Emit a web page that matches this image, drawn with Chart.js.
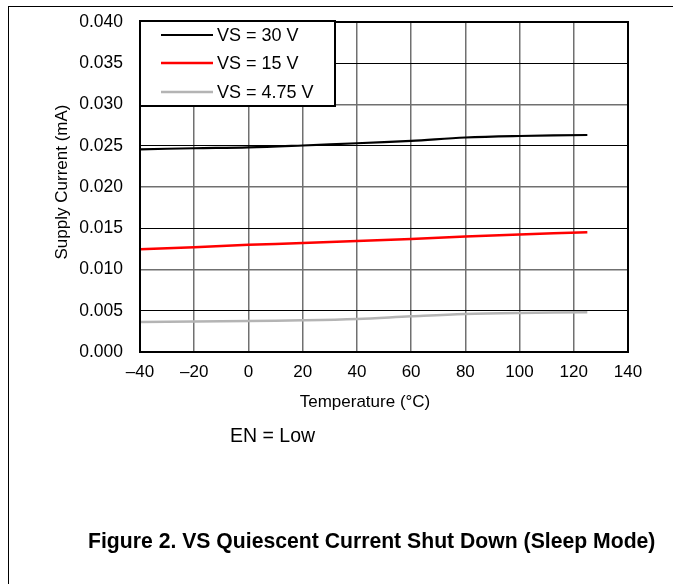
<!DOCTYPE html>
<html>
<head>
<meta charset="utf-8">
<script src="https://cdn.jsdelivr.net/npm/chart.js@4.4.1/dist/chart.umd.min.js"></script>
<style>
html,body{margin:0;padding:0;background:#fff;}
#wrap{position:relative;width:673px;height:584px;overflow:hidden;}
#frame{position:absolute;left:8px;top:6px;width:700px;height:700px;border-top:1px solid #000;border-left:1px solid #000;}
canvas{position:absolute;left:0;top:0;}
</style>
</head>
<body>
<div id="wrap">
<div id="frame"></div>
<canvas id="c" width="673" height="584"></canvas>
</div>
<script>
// Data
const temps = [-40, -20, 0, 20, 40, 60, 80, 100, 125];
const vs30  = [0.02457, 0.0247, 0.0248, 0.02503, 0.0253, 0.0256, 0.0260, 0.02618, 0.0263];
const vs15  = [0.01245, 0.0127, 0.0130, 0.0132, 0.01345, 0.0137, 0.0140, 0.01425, 0.01451];
const vs475 = [0.00364, 0.0037, 0.00376, 0.00384, 0.0040, 0.00432, 0.0046, 0.00473, 0.00481];
const seriesLabels = ['VS = 30 V', 'VS = 15 V', 'VS = 4.75 V'];
const xTickValues = [-40, -20, 0, 20, 40, 60, 80, 100, 120, 140];
const xTickLabels = ['\u201340', '\u201320', '0', '20', '40', '60', '80', '100', '120', '140'];
const yTickValues = [0, 0.005, 0.010, 0.015, 0.020, 0.025, 0.030, 0.035, 0.040];
const yTickLabels = ['0.000', '0.005', '0.010', '0.015', '0.020', '0.025', '0.030', '0.035', '0.040'];
const xTitle = 'Temperature (\u00B0C)';
const yTitle = 'Supply Current (mA)';
const noteText = 'EN = Low';
const captionText = 'Figure 2. VS Quiescent Current Shut Down (Sleep Mode)';

const FONT = '"Liberation Sans", Arial, sans-serif';
const toPts = arr => temps.map((t, i) => ({x: t, y: arr[i]}));

const overlay = {
  id: 'overlay',
  afterDatasetsDraw(chart) {
    const ctx = chart.ctx;
    const a = chart.chartArea;
    ctx.save();
    // plot border
    ctx.strokeStyle = '#000';
    ctx.lineWidth = 2;
    ctx.strokeRect(a.left, a.top, a.right - a.left, a.bottom - a.top);
    // legend box
    const lx = a.left, ly = a.top - 1, lw = 195, lh = 85;
    ctx.fillStyle = '#fff';
    ctx.fillRect(lx, ly, lw, lh);
    ctx.lineWidth = 2;
    ctx.strokeRect(lx, ly, lw, lh);
    const rows = [35, 63, 92];
    chart.data.datasets.forEach((ds, i) => {
      ctx.strokeStyle = ds.borderColor;
      ctx.lineWidth = ds.borderWidth;
      ctx.beginPath();
      ctx.moveTo(161, rows[i]);
      ctx.lineTo(213, rows[i]);
      ctx.stroke();
      ctx.fillStyle = '#000';
      ctx.font = '18px ' + FONT;
      ctx.textBaseline = 'middle';
      ctx.textAlign = 'left';
      ctx.fillText(ds.label, 217, rows[i] + 1);
    });
    ctx.restore();
  },
  afterDraw(chart) {
    const ctx = chart.ctx;
    ctx.save();
    ctx.fillStyle = '#000';
    ctx.textBaseline = 'middle';
    ctx.textAlign = 'center';
    ctx.font = '17px ' + FONT;
    ctx.fillText(xTitle, 365, 402);
    ctx.save();
    ctx.translate(62, 182);
    ctx.rotate(-Math.PI / 2);
    ctx.fillText(yTitle, 0, 0);
    ctx.restore();
    ctx.textAlign = 'left';
    ctx.font = '19.5px ' + FONT;
    ctx.fillText(noteText, 230, 437);
    ctx.font = 'bold 21.2px ' + FONT;
    ctx.fillText(captionText, 88, 542);
    ctx.restore();
  }
};

new Chart(document.getElementById('c'), {
  type: 'line',
  data: {
    datasets: [
      {label: seriesLabels[0], data: toPts(vs30), borderColor: '#000000', borderWidth: 2.2, pointRadius: 0, tension: 0.35, fill: false},
      {label: seriesLabels[1], data: toPts(vs15), borderColor: '#ff0000', borderWidth: 2.5, pointRadius: 0, tension: 0.35, fill: false},
      {label: seriesLabels[2], data: toPts(vs475), borderColor: '#b4b4b4', borderWidth: 2.5, pointRadius: 0, tension: 0.35, fill: false}
    ]
  },
  options: {
    responsive: false,
    animation: false,
    events: [],
    layout: {padding: {left: 0, top: 22, right: 45, bottom: 0}},
    plugins: {legend: {display: false}, tooltip: {enabled: false}, title: {display: false}},
    scales: {
      x: {
        type: 'linear', min: -40, max: 140,
        afterFit(s) { s.height = 232; s.paddingLeft = 0; s.paddingRight = 0; },
        afterBuildTicks(s) { s.ticks = xTickValues.map(v => ({value: v})); },
        ticks: {
          color: '#000', font: {family: FONT, size: 17}, padding: 10, maxRotation: 0, autoSkip: false,
          callback: (v) => xTickLabels[xTickValues.indexOf(v)]
        },
        grid: {color: '#707070', lineWidth: 1.5, drawTicks: false},
        border: {display: true, color: '#000', width: 2}
      },
      y: {
        type: 'linear', min: 0, max: 0.04,
        afterFit(s) { s.width = 140; s.paddingTop = 0; s.paddingBottom = 0; },
        afterBuildTicks(s) { s.ticks = yTickValues.map(v => ({value: v})); },
        ticks: {
          color: '#000', font: {family: FONT, size: 17.5}, padding: 17, autoSkip: false,
          callback: (v) => { const i = yTickValues.findIndex(t => Math.abs(t - v) < 1e-9); return yTickLabels[i]; }
        },
        grid: {
          drawTicks: false,
          color: (c) => (c.index % 2 === 1 ? '#000000' : '#707070'),
          lineWidth: (c) => (c.index % 2 === 1 ? 1 : 1.5)
        },
        border: {display: true, color: '#000', width: 2}
      }
    }
  },
  plugins: [overlay]
});
</script>
</body>
</html>
